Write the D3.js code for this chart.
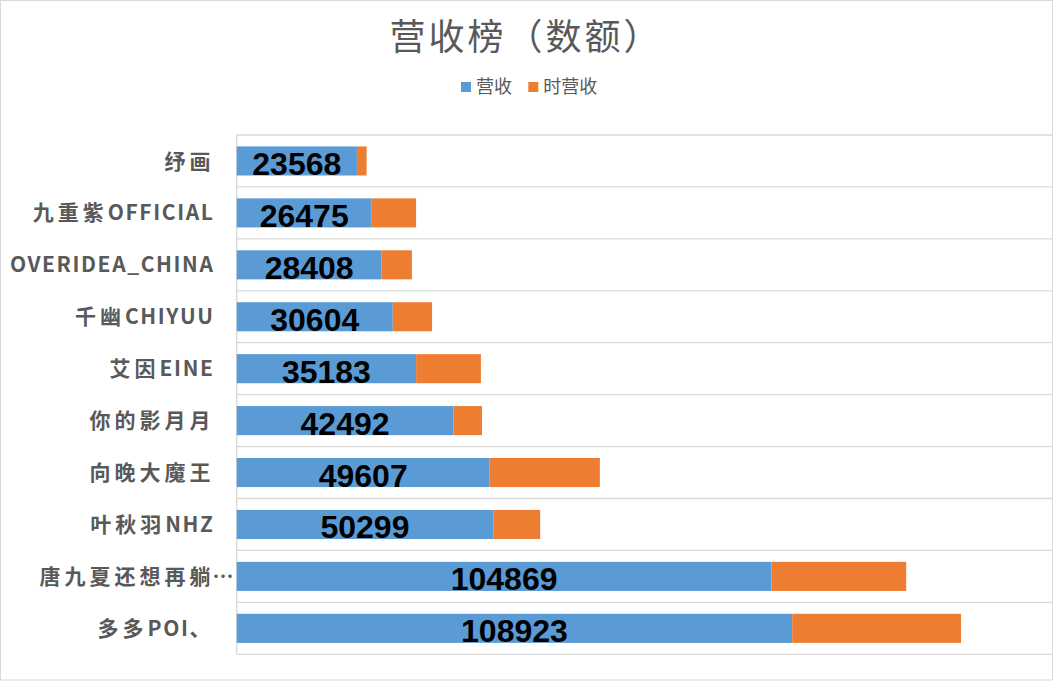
<!DOCTYPE html>
<html>
<head>
<meta charset="utf-8">
<script src="https://cdn.jsdelivr.net/npm/d3@7"></script>
<style>
  body { margin: 0; background: #fff; }
  svg { display: block; }
</style>
</head>
<body>
<div id="chart"></div>
<script>
// data, top row first
var names = ["纾画", "九重紫OFFICIAL", "OVERIDEA_CHINA", "千幽CHIYUU", "艾因EINE",
             "你的影月月", "向晚大魔王", "叶秋羽NHZ", "唐九夏还想再躺…", "多多POI、"]
var revenue = [23568, 26475, 28408, 30604, 35183, 42492, 49607, 50299, 104869, 108923]
var hourly = [1900, 8700, 5950, 7700, 12700, 5600, 21600, 9200, 26400, 33100]
var seriesNames = ["营收", "时营收"]
var colors = ["#5b9bd5", "#ed7d31"]

var width = 1054
    height = 681
var plot = {left: 236.7, right: 1052.7, top: 135, bottom: 654.3}

var svg = d3.select("#chart")
  .append("svg")
    .attr("width", width)
    .attr("height", height)

// outer frame of the chart
svg.append("rect")
  .attr("x", 0.5).attr("y", 0.5)
  .attr("width", width - 2).attr("height", height - 1.5)
  .attr("fill", "#fff")
  .attr("stroke", "#d9d9d9")

var rows = names.map(function(n, i) {
  return {name: n, "营收": revenue[i], "时营收": hourly[i]}
})

var x = d3.scaleLinear()
  .domain([0, 160000])
  .range([plot.left, plot.right])

var y = d3.scaleBand()
  .domain(names)
  .range([plot.top, plot.bottom])
  .padding(0)

var barH = y.bandwidth() * 0.56

// grid lines between the rows
var lines = d3.range(names.length + 1).map(function(i) { return plot.top + i * y.step() })
svg.append("g").selectAll("line")
  .data(lines)
  .enter().append("line")
    .attr("x1", plot.left).attr("x2", plot.right)
    .attr("y1", function(d) { return d }).attr("y2", function(d) { return d })
    .attr("stroke", "#d9d9d9")
    .attr("stroke-width", 1.3)
svg.append("line")
  .attr("x1", plot.left).attr("x2", plot.left)
  .attr("y1", plot.top).attr("y2", plot.bottom)
  .attr("stroke", "#d9d9d9")
  .attr("stroke-width", 1.3)

// stacked bars
var stack = d3.stack().keys(seriesNames)
var layers = stack(rows)

svg.append("g").selectAll("g")
  .data(layers)
  .enter().append("g")
    .attr("fill", function(d, i) { return colors[i] })
  .selectAll("rect")
  .data(function(d) { return d })
  .enter().append("rect")
    .attr("x", function(d) { return x(d[0]) })
    .attr("width", function(d) { return x(d[1]) - x(d[0]) })
    .attr("y", function(d) { return y(d.data.name) + (y.bandwidth() - barH) / 2 })
    .attr("height", barH)

// value labels in the blue part
svg.append("g").selectAll("text")
  .data(rows)
  .enter().append("text")
    .text(function(d) { return d["营收"] })
    .attr("x", function(d) { return (x(0) + x(d["营收"])) / 2 })
    .attr("y", function(d) { return y(d.name) + y.bandwidth() / 2 + 14 })
    .attr("text-anchor", "middle")
    .style("font-family", "'Liberation Sans', Arial, sans-serif")
    .style("font-weight", "bold")
    .style("font-size", "32px")
    .attr("fill", "#000")

// category labels: cjk and latin runs get different spacing,
// a trailing "…" hangs past the label edge like in excel
var cjk = /[\u3000-\u9fff\uff00-\uffef]/
function runs(s) {
  return s.match(/[\u3000-\u9fff\uff00-\uffef]+|[^\u3000-\u9fff\uff00-\uffef]+/g)
}
var labelX = 214.5
var cats = svg.append("g").selectAll("g")
  .data(names)
  .enter().append("g")
    .attr("transform", function(d) { return "translate(0," + (y(d) + y.bandwidth() / 2) + ")" })
    .style("font-family", "'Noto Sans CJK SC', 'Noto Sans', sans-serif")
    .style("font-weight", "bold")
    .style("font-size", "21px")
    .attr("fill", "#595959")

cats.append("text")
  .attr("x", labelX)
  .attr("dy", "0.36em")
  .attr("text-anchor", "end")
  .selectAll("tspan")
  .data(function(d) { return runs(d.replace(/…$/, "")) })
  .enter().append("tspan")
    .text(function(d) { return d })
    .style("letter-spacing", function(d) { return cjk.test(d) ? "4px" : "1.6px" })

cats.filter(function(d) { return /…$/.test(d) })
  .append("text")
    .attr("x", labelX - 2)
    .attr("dy", "0.36em")
    .text("…")

// title
svg.append("text")
  .text("营收榜（数额）")
  .attr("x", 526)
  .attr("y", 50)
  .attr("text-anchor", "middle")
  .style("font-family", "'Noto Sans CJK SC', sans-serif")
  .style("font-size", "36px")
  .style("letter-spacing", "3px")
  .attr("fill", "#595959")

// legend
var legendX = [461, 528.3]
var legend = svg.append("g").selectAll("g")
  .data(seriesNames)
  .enter().append("g")
    .attr("transform", function(d, i) { return "translate(" + legendX[i] + ",82)" })
legend.append("rect")
  .attr("width", 10).attr("height", 10)
  .attr("fill", function(d, i) { return colors[i] })
legend.append("text")
  .text(function(d) { return d })
  .attr("x", 15)
  .attr("y", 11)
  .style("font-family", "'Noto Sans CJK SC', sans-serif")
  .style("font-size", "18px")
  .attr("fill", "#595959")
</script>
</body>
</html>
